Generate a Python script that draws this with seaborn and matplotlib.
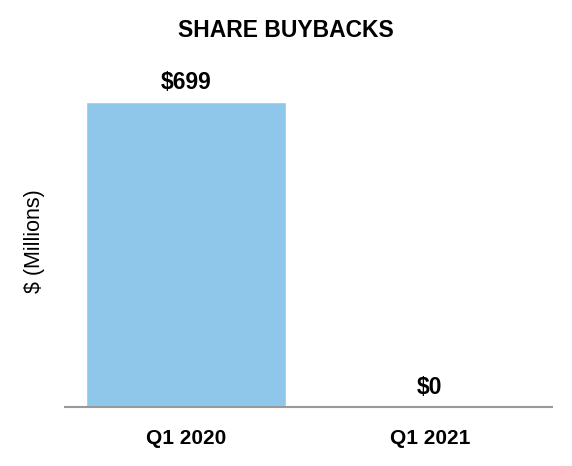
import matplotlib
matplotlib.use("Agg")
import matplotlib.pyplot as plt
import seaborn as sns
import pandas as pd

quarters = ["Q1 2020", "Q1 2021"]
buybacks = [699, 0]
labels = ["$699", "$0"]

sns.set_theme(style="white")
plt.rcParams['font.family'] = ['Liberation Sans', 'DejaVu Sans']
plt.rcParams['text.color'] = 'black'
plt.rcParams['axes.labelcolor'] = 'black'
plt.rcParams['xtick.color'] = 'black'

df = pd.DataFrame({"quarter": quarters, "value": buybacks})

fig = plt.figure(figsize=(5.72, 4.66), dpi=100)
ax = fig.add_axes([0.1136, 0.1266, 0.8514, 0.7446])
sns.barplot(data=df, x="quarter", y="value", color="#8FC7EA", saturation=1, width=0.816, ax=ax)

for i, (v, t) in enumerate(zip(buybacks, labels)):
    ax.text(i, v + 18, t, ha="center", va="bottom", fontsize=16.5, fontweight="bold", color="black")

ax.set_xlim(-0.496, 1.5)
ax.set_ylim(0, 795)
ax.set_yticks([])
ax.set_xlabel("")
ax.set_ylabel("$ (Millions)", fontsize=15.5, color="black")
ax.yaxis.set_label_coords(-0.042, 0.478)
for s in ["top", "right", "left"]:
    ax.spines[s].set_visible(False)
ax.spines["bottom"].set_color("#999999")
ax.spines["bottom"].set_linewidth(1.5)
ax.tick_params(axis="x", length=0, pad=16, labelsize=15, labelcolor="black")
for lbl in ax.get_xticklabels():
    lbl.set_fontweight("bold")
fig.text(0.5, 0.935, "SHARE BUYBACKS", ha="center", va="center", fontsize=16.5, fontweight="bold", color="black")

fig.savefig("out.png", dpi=100)
